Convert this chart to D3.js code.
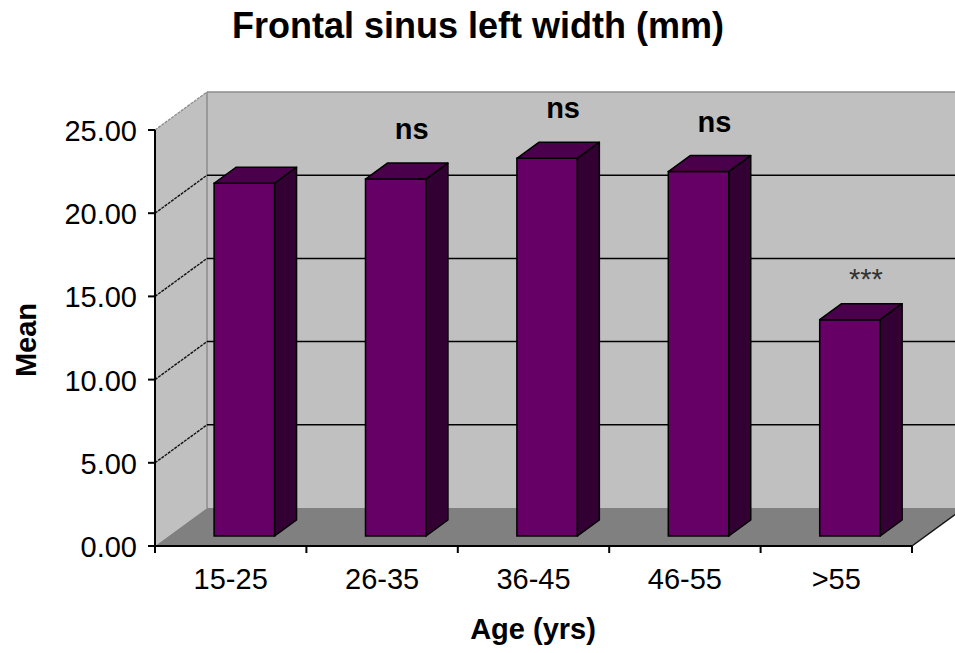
<!DOCTYPE html>
<html>
<head>
<meta charset="utf-8">
<script src="https://cdn.jsdelivr.net/npm/d3@7"></script>
<style>
  html, body { margin: 0; padding: 0; background: #fff; }
  svg { display: block; font-family: "Liberation Sans", Arial, sans-serif; }
</style>
</head>
<body>
<svg id="chart" width="955" height="653"></svg>
<script>
// data
var categories = ['15-25', '26-35', '36-45', '46-55', '>55'];
var means = [21.2, 21.45, 22.7, 21.9, 13.0];
var sigLabels = ['', 'ns', 'ns', 'ns', '***'];
var yTicks = [0, 5, 10, 15, 20, 25];
var yTickLabels = ['0.00', '5.00', '10.00', '15.00', '20.00', '25.00'];

var svg = d3.select('#chart');

// (don't call it "top" -- window.top is read only)
var plotLeft = 155, plotRight = 912, plotBottom = 546, plotTop = 130;
var depthX = 52, depthY = -38;   // oblique offset of the back wall
var z0 = 0.263, z1 = 0.684;      // bar depth inside the floor

var x = d3.scaleBand().domain(categories).range([plotLeft, plotRight]).padding(0);
var y = d3.scaleLinear().domain([0, 25]).range([plotBottom, plotTop]);

// project a point (px, value, depth) onto the picture
function proj(px, v, z){
   return [px + depthX * z, y(v) + depthY * z];
}
function poly(pts){
   return pts.map(function(p){ return p.join(','); }).join(' ');
}

var yMax = yTicks[yTicks.length - 1];

// back wall
svg.append('polygon')
   .attr('points', poly([proj(plotLeft, yMax, 1), proj(plotRight + 60, yMax, 1), proj(plotRight + 60, 0, 1), proj(plotLeft, 0, 1)]))
   .attr('fill', '#c0c0c0');

// left side wall
svg.append('polygon')
   .attr('points', poly([proj(plotLeft, yMax, 0), proj(plotLeft, yMax, 1), proj(plotLeft, 0, 1), proj(plotLeft, 0, 0)]))
   .attr('fill', '#c0c0c0');

// floor
svg.append('polygon')
   .attr('points', poly([proj(plotLeft, 0, 0), proj(plotRight, 0, 0), proj(plotRight, 0, 1), proj(plotLeft, 0, 1)]))
   .attr('fill', '#808080');

// wall edges
svg.append('line')
   .attr('x1', proj(plotLeft, yMax, 1)[0]).attr('y1', proj(plotLeft, yMax, 1)[1])
   .attr('x2', proj(plotLeft, 0, 1)[0]).attr('y2', proj(plotLeft, 0, 1)[1])
   .attr('stroke', '#8c8c8c').attr('stroke-width', 1.5);
svg.append('line')
   .attr('x1', proj(plotLeft, yMax, 1)[0]).attr('y1', proj(plotLeft, yMax, 1)[1])
   .attr('x2', 960).attr('y2', proj(plotLeft, yMax, 1)[1])
   .attr('stroke', '#8c8c8c').attr('stroke-width', 1.5);
svg.append('line')
   .attr('x1', proj(plotLeft, yMax, 0)[0]).attr('y1', proj(plotLeft, yMax, 0)[1])
   .attr('x2', proj(plotLeft, yMax, 1)[0]).attr('y2', proj(plotLeft, yMax, 1)[1])
   .attr('stroke', '#8c8c8c').attr('stroke-width', 1.3).attr('stroke-dasharray', '3,1');

// gridlines on side and back wall
var grid = yTicks.filter(function(t){ return t > 0 && t < yMax; });
svg.selectAll('.grid-side').data(grid).enter().append('line')
   .attr('x1', function(d){ return proj(plotLeft, d, 0)[0]; })
   .attr('y1', function(d){ return proj(plotLeft, d, 0)[1]; })
   .attr('x2', function(d){ return proj(plotLeft, d, 1)[0]; })
   .attr('y2', function(d){ return proj(plotLeft, d, 1)[1]; })
   .attr('stroke', '#111').attr('stroke-width', 1.4).attr('stroke-dasharray', '3,1');
svg.selectAll('.grid-back').data(grid).enter().append('line')
   .attr('x1', function(d){ return proj(plotLeft, d, 1)[0]; })
   .attr('y1', function(d){ return proj(plotLeft, d, 1)[1]; })
   .attr('x2', 960)
   .attr('y2', function(d){ return proj(plotLeft, d, 1)[1]; })
   .attr('stroke', '#000').attr('stroke-width', 1.5);

// floor right edge
svg.append('line')
   .attr('x1', proj(plotRight, 0, 0)[0]).attr('y1', proj(plotRight, 0, 0)[1])
   .attr('x2', proj(plotRight, 0, 1)[0]).attr('y2', proj(plotRight, 0, 1)[1])
   .attr('stroke', '#111').attr('stroke-width', 1.5);

// bars
var bw = x.bandwidth() * 0.4;
var bars = svg.selectAll('.bar').data(means).enter().append('g').attr('class', 'bar');

bars.append('polygon')   // front
   .attr('points', function(d, i){
      var x0 = x(categories[i]) + x.bandwidth() / 2 - bw / 2, x1 = x0 + bw;
      return poly([proj(x0, d, z0), proj(x1, d, z0), proj(x1, 0, z0), proj(x0, 0, z0)]);
   })
   .attr('fill', '#660066').attr('stroke', '#000').attr('stroke-width', 1.5);

bars.append('polygon')   // top
   .attr('points', function(d, i){
      var x0 = x(categories[i]) + x.bandwidth() / 2 - bw / 2, x1 = x0 + bw;
      return poly([proj(x0, d, z0), proj(x1, d, z0), proj(x1, d, z1), proj(x0, d, z1)]);
   })
   .attr('fill', '#4a004a').attr('stroke', '#000').attr('stroke-width', 1.5).attr('stroke-linejoin', 'round');

bars.append('polygon')   // side
   .attr('points', function(d, i){
      var x1 = x(categories[i]) + x.bandwidth() / 2 + bw / 2;
      return poly([proj(x1, d, z0), proj(x1, d, z1), proj(x1, 0, z1), proj(x1, 0, z0)]);
   })
   .attr('fill', '#330033').attr('stroke', '#000').attr('stroke-width', 1.5).attr('stroke-linejoin', 'round');

// significance labels
svg.selectAll('.sig').data(means).enter().append('text')
   .attr('x', function(d, i){ return x(categories[i]) + x.bandwidth() / 2 + depthX * z1 - 6; })
   .attr('y', function(d, i){
      var backTop = y(d) + depthY * z1;
      return sigLabels[i] === '***' ? backTop - 15 : backTop - 24;
   })
   .attr('text-anchor', 'middle')
   .attr('font-size', 29)
   .attr('font-weight', function(d, i){ return sigLabels[i] === '***' ? 'normal' : 'bold'; })
   .attr('fill', function(d, i){ return sigLabels[i] === '***' ? '#333' : '#000'; })
   .text(function(d, i){ return sigLabels[i]; });

// y axis
svg.append('line')
   .attr('x1', plotLeft).attr('y1', y(yMax)).attr('x2', plotLeft).attr('y2', y(0) + 7)
   .attr('stroke', '#000').attr('stroke-width', 2);
svg.selectAll('.ytick').data(yTicks).enter().append('line')
   .attr('x1', plotLeft - 7).attr('x2', plotLeft)
   .attr('y1', function(d){ return y(d); }).attr('y2', function(d){ return y(d); })
   .attr('stroke', '#000').attr('stroke-width', 2);
svg.selectAll('.ylab').data(yTicks).enter().append('text')
   .attr('x', plotLeft - 18)
   .attr('y', function(d){ return y(d) + 11; })
   .attr('text-anchor', 'end')
   .attr('font-size', 29)
   .attr('fill', '#000')
   .text(function(d, i){ return yTickLabels[i]; });

// x axis
svg.append('line')
   .attr('x1', plotLeft - 7).attr('y1', plotBottom).attr('x2', plotRight).attr('y2', plotBottom)
   .attr('stroke', '#000').attr('stroke-width', 2);
var xTickPos = categories.map(function(c){ return x(c); }).concat([plotRight]);
svg.selectAll('.xtick').data(xTickPos).enter().append('line')
   .attr('x1', function(d){ return d; }).attr('x2', function(d){ return d; })
   .attr('y1', plotBottom).attr('y2', plotBottom + 7)
   .attr('stroke', '#000').attr('stroke-width', 2);
svg.selectAll('.xlab').data(categories).enter().append('text')
   .attr('x', function(d){ return x(d) + x.bandwidth() / 2; })
   .attr('y', 589)
   .attr('text-anchor', 'middle')
   .attr('font-size', 29)
   .attr('fill', '#000')
   .text(function(d){ return d; });

// titles
svg.append('text')
   .attr('x', 478).attr('y', 38)
   .attr('text-anchor', 'middle')
   .attr('font-size', 36).attr('font-weight', 'bold')
   .text('Frontal sinus left width (mm)');

svg.append('text')
   .attr('x', 533).attr('y', 639)
   .attr('text-anchor', 'middle')
   .attr('font-size', 29).attr('font-weight', 'bold')
   .text('Age (yrs)');

svg.append('text')
   .attr('transform', 'translate(36,340) rotate(-90)')
   .attr('text-anchor', 'middle')
   .attr('font-size', 29).attr('font-weight', 'bold')
   .text('Mean');
</script>
</body>
</html>
